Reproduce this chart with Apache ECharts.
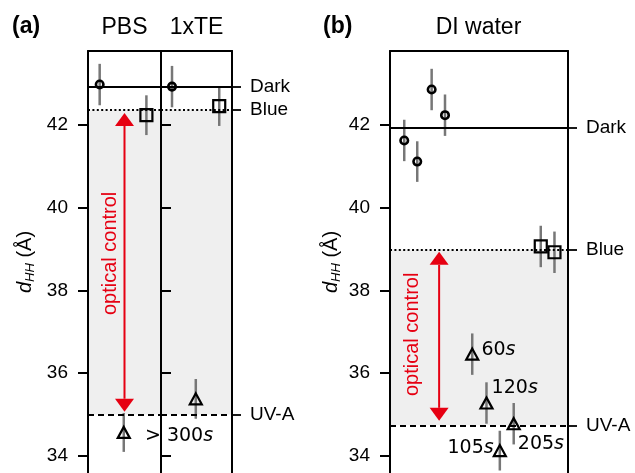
<!DOCTYPE html>
<html>
<head>
<meta charset="utf-8">
<script src="https://cdn.jsdelivr.net/npm/echarts@6/dist/echarts.min.js"></script>
<style>
  html, body { margin: 0; padding: 0; background: #fff; }
  #chart { width: 635px; height: 473px; }
</style>
</head>
<body>
<div id="chart"></div>
<script>
// reference levels: Dark, Blue, UV-A
const levelNames = ['Dark', 'Blue', 'UV-A'];
const pbsLevels = [42.92, 42.35, 35.0];
const diLevels = [41.93, 38.98, 34.74];
const yTicks = [34, 36, 38, 40, 42];

// [position in panel, d_HH, error]
const pbsDark = [[0.16, 42.97, 0.5]];
const pbsBlue = [[0.80, 42.23, 0.48]];
const pbsUva = [[0.49, 34.57, 0.47]];
const teDark = [[0.155, 42.92, 0.5]];
const teBlue = [[0.82, 42.45, 0.48]];
const teUva = [[0.49, 35.38, 0.48]];
const diDark = [[0.080, 41.62, 0.5], [0.153, 41.11, 0.49], [0.234, 42.85, 0.5], [0.309, 42.23, 0.5]];
const diBlue = [[0.847, 39.06, 0.5], [0.924, 38.92, 0.5]];
const diUva = [[0.462, 36.46, 0.5], [0.542, 35.28, 0.5], [0.617, 34.13, 0.48], [0.695, 34.78, 0.5]];
const pbsUvaTimes = ['> 300'];
const diUvaTimes = ['60', '120', '105', '205'];

// optical control arrows: [position, top, bottom]
const pbsArrow = [0.5, 42.28, 35.07];
const diArrow = [0.276, 38.93, 34.85];

const RED = '#e60012';
const FONT = '"Liberation Sans", Arial, sans-serif';
const Y_MIN = 33.59, Y_MAX = 43.78;

const chart = echarts.init(document.getElementById('chart'));

function xAxis(grid) {
  return {
    gridIndex: grid, type: 'value', min: 0, max: 1, position: 'top', z: 5,
    axisLine: { show: true, lineStyle: { color: '#000', width: 2 } },
    axisTick: { show: false }, axisLabel: { show: false }, splitLine: { show: false }
  };
}

function leftAxis(grid, withLabels, gap) {
  const ax = {
    gridIndex: grid, type: 'value', min: Y_MIN, max: Y_MAX, position: 'left', z: 5,
    axisLine: { show: true, lineStyle: { color: '#000', width: 2 } },
    axisTick: { show: true, inside: !withLabels, length: 10, customValues: yTicks, lineStyle: { color: '#000', width: 2 } },
    axisLabel: { show: withLabels, customValues: yTicks, margin: 20, fontSize: 19, color: '#000', fontFamily: FONT },
    splitLine: { show: false }
  };
  if (withLabels) {
    ax.name = '{d|d}{s|HH} (Å)';
    ax.nameLocation = 'middle';
    ax.nameRotate = 90;
    ax.nameGap = gap;
    ax.nameTextStyle = {
      fontSize: 20, color: '#000', fontFamily: FONT, lineHeight: 24,
      rich: {
        d: { fontSize: 20, fontStyle: 'italic', fontFamily: FONT, color: '#000', lineHeight: 24 },
        s: { fontSize: 13, fontStyle: 'italic', fontFamily: FONT, color: '#000', lineHeight: 12, verticalAlign: 'bottom' }
      }
    };
  }
  return ax;
}

function rightAxis(grid, levels) {
  return {
    gridIndex: grid, type: 'value', min: Y_MIN, max: Y_MAX, position: 'right', z: 5,
    axisLine: { show: true, lineStyle: { color: '#000', width: 2 } },
    axisTick: { show: true, length: 9, customValues: levels, lineStyle: { color: '#000', width: 1.8 } },
    axisLabel: {
      show: true, customValues: levels, margin: 18, fontSize: 19, color: '#000', fontFamily: FONT,
      formatter: function (v) {
        let best = 0;
        levels.forEach((l, i) => { if (Math.abs(l - v) < Math.abs(levels[best] - v)) best = i; });
        return levelNames[best];
      }
    },
    splitLine: { show: false }
  };
}

function errorBars(params, api) {
  const x = api.value(0), y = api.value(1), e = api.value(2);
  const a = api.coord([x, y - e]), b = api.coord([x, y + e]);
  return {
    type: 'line',
    shape: { x1: a[0], y1: a[1], x2: b[0], y2: b[1] },
    style: { stroke: '#777', lineWidth: 2.5 }
  };
}

function levelSeries(xi, yi, levels, data) {
  return [
    {
      type: 'line', xAxisIndex: xi, yAxisIndex: yi, data: [], z: 0, silent: true,
      markArea: {
        silent: true, itemStyle: { color: '#efefef' },
        data: [[{ yAxis: levels[1] }, { yAxis: levels[2] }]]
      }
    },
    {
      type: 'line', xAxisIndex: xi, yAxisIndex: yi, data: [], z: 1, silent: true,
      markLine: {
        silent: true, symbol: 'none', label: { show: false },
        data: [
          { yAxis: levels[0], lineStyle: { color: '#000', width: 1.8, type: 'solid' } },
          { yAxis: levels[1], lineStyle: { color: '#000', width: 2, type: [2, 2.4] } },
          { yAxis: levels[2], lineStyle: { color: '#000', width: 2, type: [6, 4] } }
        ]
      }
    },
    {
      type: 'custom', xAxisIndex: xi, yAxisIndex: yi, z: 2, silent: true,
      renderItem: errorBars, encode: { x: 0, y: 1 }, data: data
    }
  ];
}

function markers(xi, yi, data, symbol, size) {
  return {
    type: 'scatter', xAxisIndex: xi, yAxisIndex: yi, z: 4, silent: true,
    symbol: symbol, symbolSize: size,
    itemStyle: { color: 'rgba(0,0,0,0)', borderColor: '#000', borderWidth: symbol === 'circle' ? 2.6 : 2.2, opacity: 1 },
    data: data.map(d => [d[0], d[1]])
  };
}

const timeRich = {
  n: { fontSize: 19, fontFamily: '"DejaVu Sans", sans-serif', color: '#000' },
  s: { fontSize: 19, fontFamily: '"DejaVu Sans", sans-serif', fontStyle: 'italic', color: '#000' }
};

function timedTriangles(xi, yi, data, times, places) {
  const s = markers(xi, yi, data, 'triangle', [12, 11]);
  s.data = data.map((d, i) => ({
    value: [d[0], d[1]],
    label: {
      show: true, formatter: '{n|' + times[i] + '}{s|s}', rich: timeRich,
      position: places[i].pos, distance: 0, offset: places[i].off
    }
  }));
  return s;
}

function arrowSeries(xi, yi, arrow, textDx, textDy) {
  return {
    type: 'custom', xAxisIndex: xi, yAxisIndex: yi, z: 3, silent: true,
    encode: { x: 0, y: [1, 2] },
    data: [arrow],
    renderItem: function (params, api) {
      const x = api.value(0);
      const t = api.coord([x, api.value(1)]), b = api.coord([x, api.value(2)]);
      const hw = 9.5, hh = 13;
      return {
        type: 'group',
        children: [
          { type: 'line', shape: { x1: t[0], y1: t[1] + hh, x2: b[0], y2: b[1] - hh }, style: { stroke: RED, lineWidth: 2 } },
          { type: 'polygon', shape: { points: [[t[0], t[1]], [t[0] - hw, t[1] + hh], [t[0] + hw, t[1] + hh]] }, style: { fill: RED } },
          { type: 'polygon', shape: { points: [[b[0], b[1]], [b[0] - hw, b[1] - hh], [b[0] + hw, b[1] - hh]] }, style: { fill: RED } },
          {
            type: 'text', x: t[0] + textDx, y: (t[1] + b[1]) / 2 + textDy, rotation: Math.PI / 2,
            style: { text: 'optical control', fill: RED, fontSize: 20, fontFamily: FONT, align: 'center', verticalAlign: 'middle' }
          }
        ]
      };
    }
  };
}

function headText(text, x, y, bold, align) {
  return {
    type: 'text', x: x, y: y,
    style: { text: text, fill: '#000', fontSize: 23, fontWeight: bold ? 'bold' : 'normal', fontFamily: FONT, align: align || 'center', verticalAlign: 'middle' }
  };
}

const option = {
  animation: false,
  backgroundColor: '#fff',
  grid: [
    { left: 88, top: 51, width: 73, height: 422 },
    { left: 161, top: 51, width: 71, height: 422 },
    { left: 390, top: 51, width: 178, height: 422 }
  ],
  xAxis: [xAxis(0), xAxis(1), xAxis(2)],
  yAxis: [
    leftAxis(0, true, 51),
    leftAxis(1, false),
    rightAxis(1, pbsLevels),
    leftAxis(2, true, 47),
    rightAxis(2, diLevels)
  ],
  graphic: [
    headText('(a)', 12, 27, true, 'left'),
    headText('PBS', 124.5, 28),
    headText('1xTE', 196.5, 28),
    headText('(b)', 323, 27, true, 'left'),
    headText('DI water', 478.5, 28)
  ],
  series: [].concat(
    levelSeries(0, 0, pbsLevels, pbsDark.concat(pbsBlue, pbsUva)),
    levelSeries(1, 1, pbsLevels, teDark.concat(teBlue, teUva)),
    levelSeries(2, 3, diLevels, diDark.concat(diBlue, diUva)),
    [
      markers(0, 0, pbsDark, 'circle', 7.5),
      markers(0, 0, pbsBlue, 'rect', 12),
      timedTriangles(0, 0, pbsUva, pbsUvaTimes, [{ pos: 'right', off: [14, 4] }]),
      markers(1, 1, teDark, 'circle', 7.5),
      markers(1, 1, teBlue, 'rect', 12),
      markers(1, 1, teUva, 'triangle', [12, 11]),
      markers(2, 3, diDark, 'circle', 7.5),
      markers(2, 3, diBlue, 'rect', 12),
      timedTriangles(2, 3, diUva, diUvaTimes, [
        { pos: 'right', off: [2, -4] },
        { pos: 'right', off: [-2, -15] },
        { pos: 'left', off: [1, -3] },
        { pos: 'right', off: [-3, 20] }
      ]),
      arrowSeries(0, 0, pbsArrow, -14, -9),
      arrowSeries(2, 3, diArrow, -27, -2)
    ]
  )
};

chart.setOption(option);
</script>
</body>
</html>
